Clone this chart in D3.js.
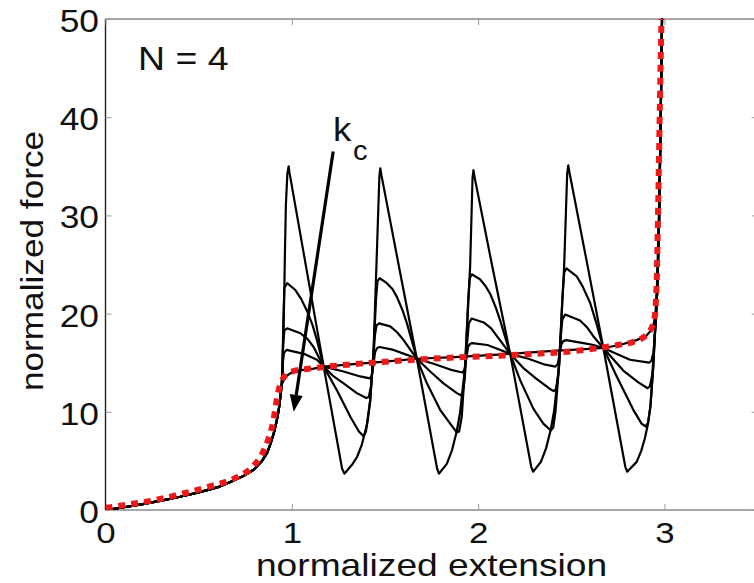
<!DOCTYPE html>
<html><head><meta charset="utf-8">
<script src="https://cdn.jsdelivr.net/npm/d3@7"></script>
<style>
html,body{margin:0;padding:0;background:#fff;}
svg{display:block;}
text{font-family:"Liberation Sans",Arial,Helvetica,sans-serif;fill:#111;}
</style></head>
<body>
<svg id="chart" width="754" height="583"></svg>
<script>
// ---------------- data ----------------
const xTicks = [0, 1, 2, 3];
const yTicks = [0, 10, 20, 30, 40, 50];
const xLabel = "normalized extension";
const yLabel = "normalized force";
const annotation = "N = 4";

// shared low-force part of all black curves
const lowPart = [[0,0],[0.1,0.28],[0.2,0.6],[0.3,0.95],[0.4,1.35],[0.5,1.8],[0.6,2.3],[0.67,2.85],[0.74,3.45],[0.795,4.1],[0.84,5.0],[0.867,5.8],[0.885,6.7],[0.903,7.8],[0.918,9.0],[0.93,10.2]];

// curve A (sharpest sawtooth)
const curveA = [[0.94,11.8],[0.948,13.0],[0.956,18.5],[0.962,25],[0.968,31],[0.976,34.2],[0.983,35.0],[0.988,34.3],
  [1.08,24.4],[1.171,14.6],[1.27,4.2],[1.282,3.7],[1.323,4.6],[1.35,5.4],[1.375,6.6],[1.403,8.7],[1.421,11.2],[1.439,16.3],[1.457,26.5],[1.47,34.0],[1.475,34.8],[1.481,34.1],
  [1.575,24.8],[1.671,15.4],[1.78,4.2],[1.79,3.7],[1.832,4.7],[1.86,6.1],[1.885,8.0],[1.903,9.9],[1.93,14.6],[1.957,24.8],[1.97,33.8],[1.975,34.6],[1.981,33.9],
  [2.075,24.9],[2.172,15.9],[2.285,4.4],[2.295,3.9],[2.337,4.9],[2.365,6.3],[2.39,8.2],[2.408,10.1],[2.435,14.8],[2.462,25.0],[2.478,34.3],[2.484,35.1],[2.49,34.4],
  [2.58,25.6],[2.672,16.5],[2.79,4.4],[2.8,3.9],[2.851,4.9],[2.875,6.0],[2.895,7.3],[2.912,8.8],[2.925,10.6],[2.94,14.6],[2.95,18.3],[2.962,22.5],[2.972,30],[2.98,40],[2.987,50]];

// curve B
const curveB = [[0.94,11.8],[0.948,13.0],[0.955,19.5],[0.96,22.6],[0.975,23.1],[1.019,22.4],[1.05,21.5],[1.081,20.3],[1.11,18.9],[1.135,17.3],[1.171,14.6],
  [1.242,12.2],[1.314,9.5],[1.36,8.0],[1.385,7.5],[1.398,8.0],[1.41,9.5],[1.421,11.2],[1.439,16.3],[1.452,21.5],[1.46,23.3],[1.472,23.6],
  [1.51,23.1],[1.54,22.5],[1.564,21.7],[1.595,20.3],[1.618,19.0],[1.671,15.4],[1.725,12.9],[1.796,10.2],[1.85,8.8],[1.885,7.9],[1.898,8.0],[1.912,9.5],[1.93,14.6],[1.947,21.5],[1.955,23.6],[1.967,24.0],
  [2.01,23.5],[2.04,22.8],[2.065,22.0],[2.095,20.6],[2.12,19.2],[2.172,15.9],[2.226,13.2],[2.297,10.3],[2.35,8.8],[2.39,8.1],[2.403,8.4],[2.415,10.0],[2.435,14.8],[2.452,21.5],[2.462,24.2],[2.474,24.6],
  [2.529,23.8],[2.56,22.8],[2.601,21.1],[2.635,19.0],[2.672,16.5],[2.744,13.6],[2.833,10.2],[2.877,8.8],[2.9,8.5],[2.912,8.9],[2.925,10.6],[2.94,14.6],[2.95,18.3],[2.962,22.5],[2.972,30],[2.98,40],[2.987,50]];

// curve C
const curveC = [[0.94,11.8],[0.948,13.5],[0.953,16.8],[0.96,18.3],[0.975,18.5],[1.046,18.0],[1.085,17.4],[1.117,16.6],[1.171,14.6],
  [1.225,13.6],[1.278,12.9],[1.349,11.9],[1.4,11.4],[1.413,11.5],[1.425,12.6],[1.437,15.3],[1.446,17.8],[1.455,18.8],[1.468,19.0],
  [1.528,18.7],[1.565,18.1],[1.6,17.3],[1.671,15.4],[1.743,14.1],[1.814,12.9],[1.886,11.9],[1.905,11.7],[1.917,11.9],[1.928,13.3],[1.94,16.8],[1.95,19.0],[1.965,19.5],
  [2.03,19.1],[2.07,18.5],[2.105,17.6],[2.172,15.9],[2.24,14.5],[2.31,13.4],[2.38,12.4],[2.405,12.1],[2.418,12.3],[2.43,13.8],[2.442,17.3],[2.452,19.4],[2.467,19.9],
  [2.547,19.3],[2.585,18.6],[2.618,17.7],[2.672,16.5],[2.779,14.2],[2.86,13.0],[2.91,12.4],[2.922,12.6],[2.935,13.8],[2.95,18.3],[2.962,22.5],[2.972,30],[2.98,40],[2.987,50]];

// curve D
const curveD = [[0.94,11.8],[0.948,13.5],[0.953,15.2],[0.958,16.0],[0.972,16.3],[1.064,15.9],[1.135,15.3],[1.171,14.6],
  [1.278,14.1],[1.367,13.6],[1.418,13.4],[1.43,13.7],[1.438,14.8],[1.447,16.1],[1.458,16.5],[1.472,16.6],
  [1.546,16.3],[1.618,15.8],[1.671,15.4],[1.761,14.9],[1.85,14.3],[1.915,14.0],[1.927,14.3],[1.936,15.4],[1.946,16.6],[1.956,16.9],[1.968,17.0],
  [2.05,16.8],[2.12,16.3],[2.172,15.9],[2.27,15.4],[2.36,14.8],[2.415,14.6],[2.428,14.9],[2.437,15.9],[2.447,16.9],[2.457,17.2],[2.472,17.3],
  [2.565,17.0],[2.62,16.8],[2.672,16.5],[2.815,15.3],[2.918,15.0],[2.93,15.2],[2.941,16.0],[2.95,18.3],[2.962,22.5],[2.972,30],[2.98,40],[2.987,50]];

// curve E (smoothest, follows the dotted curve)
const curveE = [[0.948,12.9],[0.962,13.4],[0.974,13.7],[1.0,14.0],[1.05,14.25],[1.117,14.4],[1.171,14.6],[1.3,14.8],[1.5,15.1],[1.671,15.4],[1.9,15.6],[2.172,15.9],
  [2.4,16.2],[2.6,16.4],[2.672,16.5],[2.76,16.8],[2.85,17.3],[2.9,17.7],[2.925,18.2],[2.942,18.9],[2.952,20],[2.96,23],[2.97,30],[2.98,40],[2.987,50]];

// red dotted reference curve
const redCurve = [[0,0.2],[0.1,0.5],[0.25,0.95],[0.4,1.6],[0.55,2.35],[0.7,3.3],[0.79,4.4],[0.84,5.7],[0.87,7.0],[0.9,9.0],[0.92,11.3],[0.935,12.6],[0.95,13.3],[0.97,13.8],[1.0,14.1],
  [1.1,14.4],[1.3,14.8],[1.5,15.1],[1.7,15.35],[1.9,15.55],[2.1,15.7],[2.3,15.9],[2.5,16.15],[2.65,16.5],[2.75,16.8],[2.83,17.1],[2.88,17.5],[2.913,18.0],[2.935,18.7],
  [2.945,19.3],[2.952,20.5],[2.958,23],[2.967,31.6],[2.976,41.8],[2.984,50]];

// k_c arrow: from / to (data coordinates)
const arrowFrom = [1.222, 36.5];
const arrowTo = [1.01, 10.0];

// ---------------- drawing ----------------
const svg = d3.select("#chart");
const L = 105.5, R = 757.6, T = 19, B = 510;
const x = d3.scaleLinear().domain([0, 3.5]).range([L, R]);
const y = d3.scaleLinear().domain([0, 50]).range([B, T]);

function stretch(sel, f){
  sel.each(function(){
    const n = this.getComputedTextLength();
    d3.select(this).attr("textLength", n*f).attr("lengthAdjust","spacingAndGlyphs");
  });
}

svg.append("defs").append("clipPath").attr("id","plot")
  .append("rect").attr("x",L).attr("y",T-1).attr("width",R-L).attr("height",B-T+1);

// frame
const frame = svg.append("g");
frame.append("line").attr("x1",L).attr("x2",R).attr("y1",T).attr("y2",T).attr("stroke","#8a8a8a").attr("stroke-width",1.3);
frame.append("line").attr("x1",L).attr("x2",R).attr("y1",B).attr("y2",B).attr("stroke","#8a8a8a").attr("stroke-width",1.3);
frame.append("line").attr("x1",R).attr("x2",R).attr("y1",T).attr("y2",B).attr("stroke","#8a8a8a").attr("stroke-width",1.3);

// axes
const gx = svg.append("g").attr("transform",`translate(0,${B})`)
  .call(d3.axisBottom(x).tickValues(xTicks).tickFormat(d3.format("d")).tickSize(-6).tickSizeOuter(0));
const gy = svg.append("g").attr("transform",`translate(${L},0)`)
  .call(d3.axisLeft(y).tickValues(yTicks).tickFormat(d3.format("d")).tickSize(-6).tickSizeOuter(0));
const gyr = svg.append("g").attr("transform",`translate(${R},0)`)
  .call(d3.axisRight(y).tickValues(yTicks).tickFormat("").tickSize(-6).tickSizeOuter(0));
const gxt = svg.append("g").attr("transform",`translate(0,${T})`)
  .call(d3.axisTop(x).tickValues(xTicks).tickFormat("").tickSize(-6).tickSizeOuter(0));
[gx,gy,gyr,gxt].forEach(g=>{
  g.select(".domain").attr("stroke","none");
  g.selectAll(".tick line").attr("stroke","#9a9a9a").attr("stroke-width",1);
});
gy.select(".domain").attr("stroke","#222").attr("stroke-width",1.4).attr("d",`M0,${T}V${B}`);
gx.selectAll(".tick text").attr("y",0).attr("dy",0).attr("transform","translate(0,33)")
  .style("font-size","29px").attr("font-family",null).attr("fill","#111").call(stretch,1.2);
gy.selectAll(".tick text").attr("x",-6.5).attr("dy","0.4em")
  .style("font-size","31px").attr("font-family",null).attr("fill","#111").call(stretch,1.14);

// curves
const line = d3.line().x(d=>x(d[0])).y(d=>y(d[1])).curve(d3.curveLinear);
const plot = svg.append("g").attr("clip-path","url(#plot)");
const blackCurves = [curveA, curveB, curveC, curveD, curveE].map(c => lowPart.concat(c));
plot.selectAll("path.k").data(blackCurves).join("path").attr("class","k")
  .attr("d", line).attr("fill","none").attr("stroke","#000").attr("stroke-width",2.2)
  .attr("stroke-linejoin","round").attr("stroke-linecap","round");
plot.append("path").datum(redCurve).attr("d", line.curve(d3.curveMonotoneX)).attr("fill","none")
  .attr("stroke","#ee1a1a").attr("stroke-width",6).attr("stroke-dasharray","7,6");

// k_c arrow
const ax0 = x(arrowFrom[0]), ay0 = y(arrowFrom[1]), ax1 = x(arrowTo[0]), ay1 = y(arrowTo[1]);
const ang = Math.atan2(ay1-ay0, ax1-ax0);
const hl = 17, hw = 6.5;
const bx = ax1 - hl*Math.cos(ang), by = ay1 - hl*Math.sin(ang);
svg.append("line").attr("x1",ax0).attr("y1",ay0).attr("x2",bx).attr("y2",by)
  .attr("stroke","#000").attr("stroke-width",3.2);
svg.append("path").attr("fill","#000")
  .attr("d",`M${ax1},${ay1}L${bx+hw*Math.sin(ang)},${by-hw*Math.cos(ang)}L${bx-hw*Math.sin(ang)},${by+hw*Math.cos(ang)}Z`);

// texts
svg.append("text").attr("x",333).attr("y",141).style("font-size","34px").text("k").call(stretch,1.08);
svg.append("text").attr("x",353).attr("y",160).style("font-size","27px").text("c").call(stretch,1.08);
svg.append("text").attr("x",138).attr("y",70).style("font-size","34px").text(annotation).call(stretch,1.1);
svg.append("text").attr("x",(L+R)/2).attr("y",576).attr("text-anchor","middle").style("font-size","31.5px").text(xLabel).call(stretch,1.18);
svg.append("text").attr("transform","translate(43,261) rotate(-90)").attr("text-anchor","middle").style("font-size","32px").text(yLabel).call(stretch,1.1);
</script>
</body></html>
